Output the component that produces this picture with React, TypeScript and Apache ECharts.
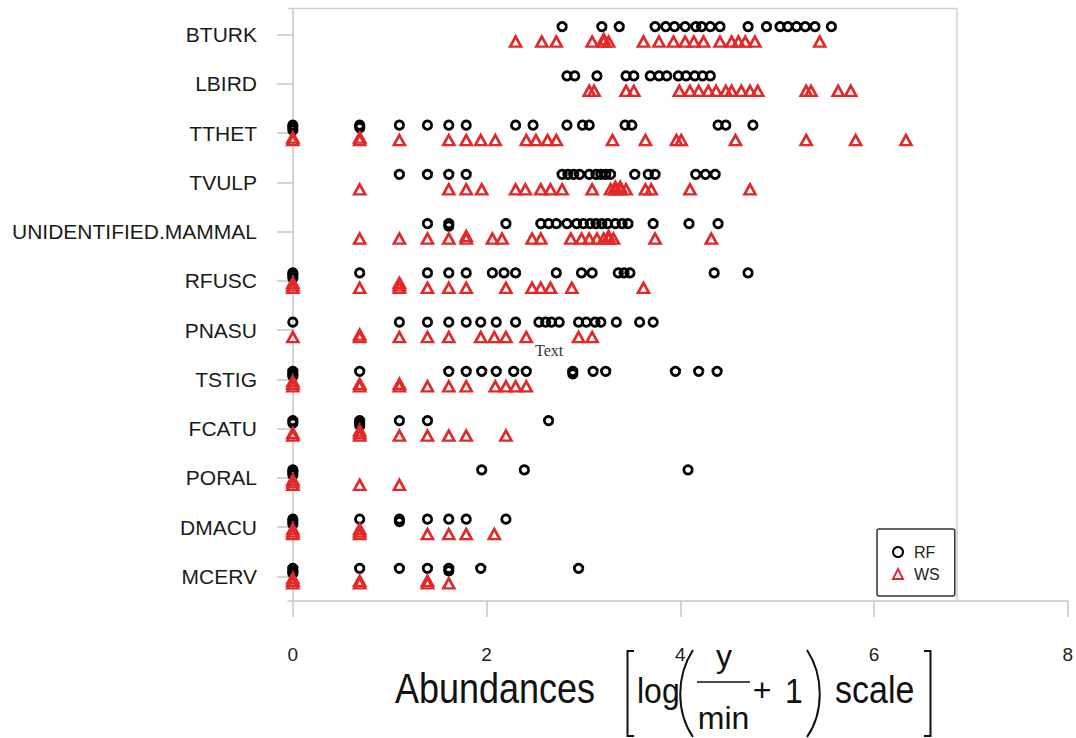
import React, { useEffect, useRef } from "react";
import * as echarts from "echarts";

const categories = [
  "BTURK", "LBIRD", "TTHET", "TVULP", "UNIDENTIFIED.MAMMAL", "RFUSC",
  "PNASU", "TSTIG", "FCATU", "PORAL", "DMACU", "MCERV",
];

const xTicks = [0, 2, 4, 6, 8];

// RF values (log(y/min+1)) per species
const rfBTURK = [2.78, 3.19, 3.37, 3.74, 3.85, 3.94, 4.05, 4.16, 4.22, 4.31, 4.41, 4.70, 4.89, 5.03, 5.11, 5.20, 5.29, 5.39, 5.56];
const rfLBIRD = [2.83, 2.91, 3.14, 3.44, 3.52, 3.69, 3.78, 3.86, 3.98, 4.06, 4.15, 4.23, 4.31];
const rfTTHET = [0, 0, 0, 0.69, 0.69, 1.10, 1.39, 1.61, 1.79, 2.30, 2.48, 2.83, 2.99, 3.06, 3.43, 3.50, 4.39, 4.47, 4.75];
const rfTVULP = [1.10, 1.39, 1.61, 1.79, 2.78, 2.84, 2.90, 2.96, 3.06, 3.13, 3.18, 3.23, 3.28, 3.53, 3.67, 3.74, 4.16, 4.26, 4.36];
const rfUNID = [1.39, 1.61, 1.61, 2.20, 2.56, 2.64, 2.72, 2.83, 2.93, 3.00, 3.07, 3.13, 3.19, 3.25, 3.33, 3.40, 3.46, 3.72, 4.09, 4.39];
const rfRFUSC = [0, 0, 0, 0.69, 1.39, 1.61, 1.79, 2.06, 2.18, 2.30, 2.72, 2.98, 3.09, 3.36, 3.42, 3.48, 4.35, 4.70];
const rfPNASU = [0, 1.10, 1.39, 1.61, 1.79, 1.94, 2.10, 2.30, 2.54, 2.61, 2.67, 2.75, 2.95, 3.03, 3.12, 3.18, 3.34, 3.58, 3.72];
const rfTSTIG = [0, 0, 0, 0.69, 1.61, 1.79, 1.95, 2.10, 2.28, 2.41, 2.89, 2.89, 3.10, 3.23, 3.95, 4.19, 4.38];
const rfFCATU = [0, 0, 0.69, 0.69, 0.69, 1.10, 1.39, 2.64];
const rfPORAL = [0, 0, 0, 1.95, 2.39, 4.08];
const rfDMACU = [0, 0, 0, 0.69, 1.10, 1.10, 1.39, 1.61, 1.79, 2.20];
const rfMCERV = [0, 0, 0, 0.69, 1.10, 1.39, 1.61, 1.61, 1.94, 2.95];

// WS values per species
const wsBTURK = [2.30, 2.57, 2.72, 3.09, 3.21, 3.21, 3.26, 3.62, 3.78, 3.93, 4.05, 4.14, 4.24, 4.41, 4.53, 4.60, 4.67, 4.77, 5.44];
const wsLBIRD = [3.06, 3.11, 3.44, 3.52, 3.99, 4.10, 4.19, 4.29, 4.37, 4.47, 4.53, 4.63, 4.72, 4.80, 5.30, 5.35, 5.63, 5.76];
const wsTTHET = [0, 0, 0.69, 0.69, 1.10, 1.61, 1.79, 1.94, 2.09, 2.41, 2.51, 2.63, 2.72, 3.30, 3.64, 3.96, 4.01, 4.57, 5.30, 5.81, 6.33];
const wsTVULP = [0.69, 1.61, 1.79, 1.95, 2.30, 2.40, 2.56, 2.66, 2.78, 3.09, 3.28, 3.33, 3.33, 3.38, 3.38, 3.44, 3.64, 3.70, 4.10, 4.72];
const wsUNID = [0.69, 1.10, 1.39, 1.61, 1.79, 1.79, 2.06, 2.16, 2.47, 2.56, 2.87, 2.98, 3.06, 3.14, 3.21, 3.26, 3.26, 3.31, 3.74, 4.32];
const wsRFUSC = [0, 0, 0, 0.69, 1.10, 1.10, 1.10, 1.39, 1.61, 1.79, 2.20, 2.47, 2.56, 2.66, 2.88, 3.62];
const wsPNASU = [0, 0.69, 0.69, 1.10, 1.39, 1.61, 1.94, 2.08, 2.20, 2.41, 2.95, 3.09];
const wsTSTIG = [0, 0, 0, 0.69, 0.69, 1.10, 1.10, 1.39, 1.61, 1.79, 2.09, 2.20, 2.30, 2.41];
const wsFCATU = [0, 0, 0.69, 0.69, 0.69, 1.10, 1.39, 1.61, 1.79, 2.20];
const wsPORAL = [0, 0, 0, 0.69, 1.10];
const wsDMACU = [0, 0, 0, 0.69, 0.69, 0.69, 1.39, 1.61, 1.79, 2.08];
const wsMCERV = [0, 0, 0, 0.69, 0.69, 1.39, 1.39, 1.61];

const rfRows = [rfBTURK, rfLBIRD, rfTTHET, rfTVULP, rfUNID, rfRFUSC, rfPNASU, rfTSTIG, rfFCATU, rfPORAL, rfDMACU, rfMCERV];
const wsRows = [wsBTURK, wsLBIRD, wsTTHET, wsTVULP, wsUNID, wsRFUSC, wsPNASU, wsTSTIG, wsFCATU, wsPORAL, wsDMACU, wsMCERV];

const RED = "#e2292a";
const FONT = "Liberation Sans, Arial, sans-serif";

// Build scatter items; repeated values are stacked towards the category centre
function buildItems(rows: number[][], base: number, step: number) {
  const items: any[] = [];
  rows.forEach((row, ci) => {
    const seen: Record<string, number> = {};
    row.forEach((v) => {
      const key = String(v);
      const k = seen[key] || 0;
      seen[key] = k + 1;
      items.push({ value: [v, categories[ci]], symbolOffset: [0, base + step * k] });
    });
  });
  return items;
}

export default function App() {
  const ref = useRef<HTMLDivElement>(null);
  useEffect(() => {
    if (!ref.current) return;
    const chart = echarts.init(ref.current, null, { renderer: "svg" });
    const axisGray = "#c6c6c6";
    const option: any = {
      animation: false,
      backgroundColor: "#ffffff",
      grid: { left: 288, top: 10, height: 591, right: 6, containLabel: false },
      xAxis: {
        type: "value",
        min: -0.05,
        max: 8,
        axisLine: { show: true, onZero: false, lineStyle: { color: axisGray, width: 1.5 } },
        axisTick: { show: true, length: 16, customValues: xTicks, lineStyle: { color: axisGray, width: 1.5 } },
        axisLabel: { customValues: xTicks, fontSize: 19, color: "#222", margin: 44, fontFamily: FONT },
        splitLine: { show: false },
      },
      yAxis: {
        type: "category",
        data: categories,
        inverse: true,
        axisLine: { show: true, lineStyle: { color: axisGray, width: 1.5 } },
        axisTick: { show: true, alignWithLabel: true, length: 16, lineStyle: { color: axisGray, width: 1.5 } },
        axisLabel: { fontSize: 21, color: "#1a1a1a", margin: 31, fontFamily: FONT },
        splitLine: { show: false },
      },
      legend: {
        data: ["RF", "WS"],
        orient: "vertical",
        left: 877,
        top: 529,
        backgroundColor: "#fff",
        borderColor: "#333",
        borderWidth: 1.5,
        borderRadius: 2,
        padding: [15, 15, 14, 15],
        itemGap: 6,
        itemWidth: 10,
        itemHeight: 10,
        textStyle: { fontSize: 16, color: "#222", fontFamily: FONT, padding: [0, 0, 0, 6] },
      },
      series: [
        {
          name: "RF",
          type: "scatter",
          symbol: "circle",
          symbolSize: 8.5,
          itemStyle: { color: "rgba(0,0,0,0)", borderColor: "#000", borderWidth: 2.8, opacity: 1 },
          data: buildItems(rfRows, -8, 2.5),
          z: 3,
        },
        {
          name: "WS",
          type: "scatter",
          symbol: "triangle",
          symbolSize: [11, 10],
          itemStyle: { color: "rgba(0,0,0,0)", borderColor: RED, borderWidth: 2.6, opacity: 1 },
          data: buildItems(wsRows, 7, -2.5),
          z: 4,
        },
      ],
      graphic: [
        // plot box top and right borders
        { type: "line", shape: { x1: 288, y1: 8.5, x2: 957, y2: 8.5 }, style: { stroke: "#cfcfcf", lineWidth: 1.5 }, silent: true },
        { type: "line", shape: { x1: 957, y1: 8.5, x2: 957, y2: 601 }, style: { stroke: "#cfcfcf", lineWidth: 1.5 }, silent: true },
        // stray annotation
        { type: "text", x: 535, y: 350, style: { text: "Text", fontSize: 16, fontFamily: "Liberation Serif, Times New Roman, serif", fill: "#333", verticalAlign: "middle" } },
        // axis title
        { type: "text", x: 395, y: 687.5, scaleY: 1.18, style: { text: "Abundances", fontSize: 36, fontFamily: FONT, fill: "#111", verticalAlign: "middle" } },
        { type: "polyline", shape: { points: [[634, 651], [627.5, 651], [627.5, 736], [634, 736]] }, style: { stroke: "#111", lineWidth: 2, fill: "none" } },
        { type: "text", x: 637, y: 690, scaleY: 1.12, style: { text: "log", fontSize: 32, fontFamily: FONT, fill: "#111", verticalAlign: "middle" } },
        { type: "bezierCurve", shape: { x1: 693, y1: 650, cpx1: 676, cpy1: 676, cpx2: 676, cpy2: 712, x2: 693, y2: 737 }, style: { stroke: "#111", lineWidth: 2, fill: "none" } },
        { type: "text", x: 724, y: 656, style: { text: "y", fontSize: 32, fontFamily: FONT, fill: "#111", align: "center", verticalAlign: "middle" } },
        { type: "line", shape: { x1: 697, y1: 682, x2: 750, y2: 682 }, style: { stroke: "#111", lineWidth: 1.5 } },
        { type: "text", x: 723.5, y: 718, style: { text: "min", fontSize: 32, fontFamily: FONT, fill: "#111", align: "center", verticalAlign: "middle" } },
        { type: "text", x: 762, y: 690, style: { text: "+", fontSize: 32, fontFamily: FONT, fill: "#111", align: "center", verticalAlign: "middle" } },
        { type: "text", x: 794, y: 690, scaleY: 1.12, style: { text: "1", fontSize: 32, fontFamily: FONT, fill: "#111", align: "center", verticalAlign: "middle" } },
        { type: "bezierCurve", shape: { x1: 807, y1: 650, cpx1: 824, cpy1: 676, cpx2: 824, cpy2: 712, x2: 807, y2: 737 }, style: { stroke: "#111", lineWidth: 2, fill: "none" } },
        { type: "text", x: 835, y: 690, scaleY: 1.12, style: { text: "scale", fontSize: 34, fontFamily: FONT, fill: "#111", verticalAlign: "middle" } },
        { type: "polyline", shape: { points: [[924, 651], [930.5, 651], [930.5, 736], [924, 736]] }, style: { stroke: "#111", lineWidth: 2, fill: "none" } },
      ],
    };
    chart.setOption(option);
    return () => chart.dispose();
  }, []);
  return (
    <div
      ref={ref}
      style={{ position: "absolute", left: 0, top: 0, width: 1076, height: 738, background: "#fff" }}
    />
  );
}
